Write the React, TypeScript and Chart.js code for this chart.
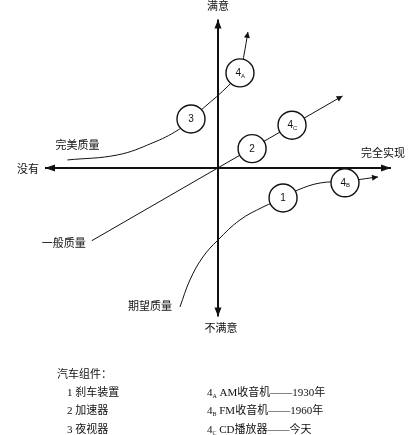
import { useEffect, useRef } from "react"
import { Chart, registerables } from "chart.js"

Chart.register(...registerables)

// x: 功能实现程度 (没有 -10 → 完全实现 10), y: 满意度 (不满意 -10 → 满意 10)
const axisHX = [-10, 10]
const axisHY = [0, 0]
const axisVX = [0, 0]
const axisVY = [10, -10]

// 一般质量
const generalX = [-7.3, 7.2]
const generalY = [-4.9, 4.85]

// 完美质量 (3 → 4A)
const perfectX = [-8.7, -5.8, -3.8, -2.3, -1.56, 1.27, 1.5, 1.73]
const perfectY = [0.54, 0.88, 1.68, 2.56, 3.3, 6.4, 7.6, 9.16]

// 期望质量 (1 → 4B)
const expectedX = [-2.2, -1.62, -0.87, 0, 1.27, 2.6, 3.76, 4.62, 5.9, 7.34, 9.25]
const expectedY = [-9.36, -7.54, -5.99, -4.85, -3.5, -2.63, -2.02, -1.48, -1.01, -0.9, -0.6]

// 汽车组件位置
const circleLabels = ["1", "2", "3", "4A", "4B", "4C"]
const circleX = [3.76, 1.97, -1.56, 1.27, 7.34, 4.28]
const circleY = [-2.02, 1.3, 3.3, 6.4, -1.0, 2.88]

const axisTexts = ["满意", "不满意", "没有", "完全实现"]
const curveNames = ["完美质量", "一般质量", "期望质量"]
const legendTitle = "汽车组件："
const legendLeft = ["1 刹车装置", "2 加速器", "3 夜视器"]
const legendSub = ["A", "B", "C"]
const legendRight = [" AM收音机——1930年", " FM收音机——1960年", " CD播放器——今天"]

const CJK = '"Liberation Serif", "Noto Sans CJK SC", serif'
const INK = "#111"

const pts = (xs: number[], ys: number[]) => xs.map((x, i) => ({ x, y: ys[i] }))

const decorPlugin = {
  id: "kanoDecor",
  afterDatasetsDraw(chart: any) {
    const { ctx, scales } = chart
    const px = (v: number) => scales.x.getPixelForValue(v)
    const py = (v: number) => scales.y.getPixelForValue(v)

    const arrow = (x0: number, y0: number, x1: number, y1: number, len: number, half: number) => {
      const tx = px(x1)
      const ty = py(y1)
      const a = Math.atan2(ty - py(y0), tx - px(x0))
      ctx.save()
      ctx.fillStyle = INK
      ctx.beginPath()
      ctx.moveTo(tx, ty)
      ctx.lineTo(tx - len * Math.cos(a) + half * Math.sin(a), ty - len * Math.sin(a) - half * Math.cos(a))
      ctx.lineTo(tx - len * Math.cos(a) - half * Math.sin(a), ty - len * Math.sin(a) + half * Math.cos(a))
      ctx.closePath()
      ctx.fill()
      ctx.restore()
    }

    // axis arrows
    arrow(axisHX[0], axisHY[0], axisHX[1], axisHY[1], 10, 3.5)
    arrow(axisHX[1], axisHY[1], axisHX[0], axisHY[0], 10, 3.5)
    arrow(axisVX[1], axisVY[1], axisVX[0], axisVY[0], 9, 3.5)
    arrow(axisVX[0], axisVY[0], axisVX[1], axisVY[1], 9, 3.5)

    // curve arrows
    const last = (xs: number[], ys: number[]) => {
      const n = xs.length
      arrow(xs[n - 2], ys[n - 2], xs[n - 1], ys[n - 1], 6, 3)
    }
    last(generalX, generalY)
    last(perfectX, perfectY)
    last(expectedX, expectedY)

    ctx.save()
    ctx.fillStyle = INK
    ctx.textBaseline = "middle"

    // circle labels
    circleLabels.forEach((lab, i) => {
      const cx = px(circleX[i])
      const cy = py(circleY[i])
      ctx.font = '10px "Liberation Sans", sans-serif'
      if (lab.length === 1) {
        ctx.textAlign = "center"
        ctx.fillText(lab, cx, cy + 0.5)
      } else {
        ctx.textAlign = "right"
        ctx.fillText(lab[0], cx + 1, cy)
        ctx.font = '6px "Liberation Sans", sans-serif'
        ctx.textAlign = "left"
        ctx.fillText(lab[1], cx + 1, cy + 3)
      }
    })

    // axis labels
    ctx.font = `11px ${CJK}`
    ctx.textAlign = "center"
    ctx.fillText(axisTexts[0], px(axisVX[0]), py(axisVY[0]) - 12)
    ctx.fillText(axisTexts[1], px(axisVX[1]) + 3, py(axisVY[1]) + 13)
    ctx.textAlign = "right"
    ctx.fillText(axisTexts[2], px(axisHX[0]) - 6, py(axisHY[0]) + 2)
    ctx.textAlign = "center"
    ctx.fillText(axisTexts[3], px(axisHX[1]) - 8, py(axisHY[1]) - 14)

    // curve names
    ctx.textAlign = "center"
    ctx.fillText(curveNames[0], px(perfectX[0]) + 10, py(perfectY[0]) - 14)
    ctx.textAlign = "right"
    ctx.fillText(curveNames[1], px(generalX[0]) - 6, py(generalY[0]) + 3)
    ctx.fillText(curveNames[2], px(expectedX[0]) - 8, py(expectedY[0]))

    // legend
    ctx.textAlign = "left"
    ctx.fillText(legendTitle, 57, 375)
    legendLeft.forEach((t, i) => ctx.fillText(t, 67, 393 + i * 18.5))
    legendRight.forEach((t, i) => {
      const y = 393 + i * 18.5
      ctx.font = `11px ${CJK}`
      ctx.fillText("4", 207, y)
      const w = ctx.measureText("4").width
      ctx.font = `6px ${CJK}`
      ctx.fillText(legendSub[i], 207 + w, y + 3)
      const ws = ctx.measureText(legendSub[i]).width
      ctx.font = `11px ${CJK}`
      ctx.fillText(t, 207 + w + ws, y)
    })
    ctx.restore()
  },
}

function KanoChart() {
  const chartRef = useRef<HTMLCanvasElement>(null)
  const chartInstance = useRef<Chart | null>(null)

  useEffect(() => {
    if (!chartRef.current) return
    document.body.style.margin = "0"

    if (chartInstance.current) {
      chartInstance.current.destroy()
    }

    const ctx = chartRef.current.getContext("2d")
    if (!ctx) return

    const line = (data: { x: number; y: number }[], width: number, tension = 0) => ({
      data,
      showLine: true,
      borderColor: INK,
      borderWidth: width,
      pointRadius: 0,
      tension,
      fill: false,
    })

    chartInstance.current = new Chart(ctx, {
      type: "scatter",
      data: {
        datasets: [
          {
            data: pts(circleX, circleY),
            showLine: false,
            pointRadius: 14,
            pointHoverRadius: 14,
            pointBackgroundColor: "#fff",
            pointBorderColor: INK,
            pointBorderWidth: 1.4,
          },
          line(pts(axisHX, axisHY), 2),
          line(pts(axisVX, axisVY), 2),
          line(pts(generalX, generalY), 1),
          line(pts(perfectX, perfectY), 1, 0.4),
          line(pts(expectedX, expectedY), 1, 0.4),
        ] as any,
      },
      options: {
        animation: false,
        responsive: false,
        events: [],
        layout: { padding: 0, autoPadding: false },
        plugins: {
          legend: { display: false },
          tooltip: { enabled: false },
        },
        scales: {
          x: { type: "linear", min: -12.6, max: 11.56, display: false },
          y: { type: "linear", min: -17.98, max: 11.31, display: false },
        },
      },
      plugins: [decorPlugin],
    })

    return () => {
      if (chartInstance.current) {
        chartInstance.current.destroy()
        chartInstance.current = null
      }
    }
  }, [])

  return <canvas ref={chartRef} width={418} height={435} style={{ display: "block", background: "#fff" }} />
}

export default function App() {
  return <KanoChart />
}
